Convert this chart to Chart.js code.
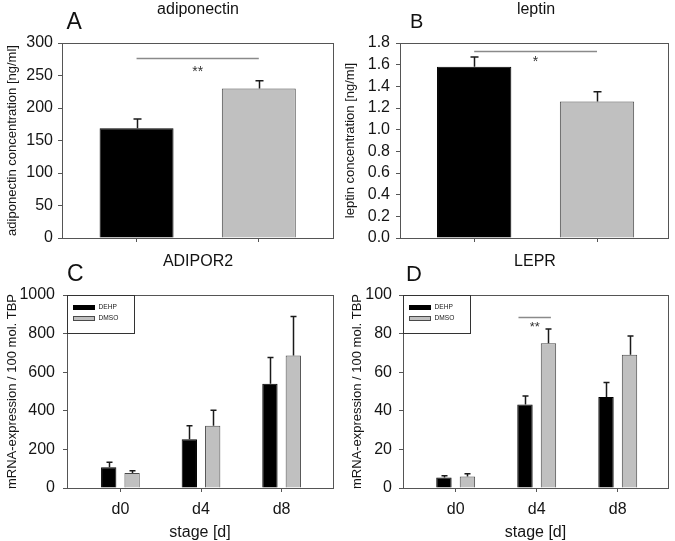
<!DOCTYPE html>
<html><head><meta charset="utf-8">
<script src="https://cdn.jsdelivr.net/npm/chart.js@4.4.1/dist/chart.umd.min.js"></script>
<style>
body{margin:0;background:#fff;}
#wrap{position:relative;width:675px;height:541px;overflow:hidden;font-family:'Liberation Sans',Arial,sans-serif;color:#111;background:#fff;}
canvas{position:absolute;}
.t{position:absolute;line-height:1;white-space:nowrap;color:#111;}
.c{transform:translateX(-50%);}
</style></head><body>
<div id="wrap">
<canvas id="cA" width="337" height="258" style="left:0;top:0"></canvas>
<canvas id="cB" width="338" height="258" style="left:337px;top:0"></canvas>
<canvas id="cC" width="337" height="283" style="left:0;top:258px"></canvas>
<canvas id="cD" width="338" height="283" style="left:337px;top:258px"></canvas>
<div class="t" style="left:66.5px;top:10px;font-size:23px">A</div>
<div class="t" style="left:410px;top:10.5px;font-size:20px">B</div>
<div class="t" style="left:67px;top:262px;font-size:23px">C</div>
<div class="t" style="left:406px;top:263.4px;font-size:22px">D</div>
<div class="t c" style="left:198px;top:0.5px;font-size:16px">adiponectin</div>
<div class="t c" style="left:536px;top:0.5px;font-size:16px">leptin</div>
<div class="t c" style="left:198px;top:253px;font-size:16px">ADIPOR2</div>
<div class="t c" style="left:535px;top:253px;font-size:16px">LEPR</div>
</div>
<script>
// ---- data ----
const groups = ['DEHP', 'DMSO'];
const adipoValues = [169, 230];
const adipoErrors = [14, 12];
const leptinValues = [1.58, 1.26];
const leptinErrors = [0.09, 0.09];

const stages = ['d0', 'd4', 'd8'];
const stageDays = [0, 4, 8];
const adipor2DEHP = [108, 253, 540];
const adipor2DEHPErr = [26, 69, 136];
const adipor2DMSO = [78, 322, 686];
const adipor2DMSOErr = [12, 81, 202];
const leprDEHP = [5.5, 43.2, 47.2];
const leprDEHPErr = [0.9, 4.5, 7.5];
const leprDMSO = [6.0, 75.0, 69.0];
const leprDMSOErr = [1.4, 7.4, 9.8];

const yTicksA = [0, 50, 100, 150, 200, 250, 300];
const yTicksB = [0, 0.2, 0.4, 0.6, 0.8, 1.0, 1.2, 1.4, 1.6, 1.8];
const yTicksC = [0, 200, 400, 600, 800, 1000];
const yTicksD = [0, 20, 40, 60, 80, 100];

// significance marks
const sigA = {x0: 0, x1: 1, y: 276.5, ty: 261, text: '**'};
const sigB = {x0: 0, x1: 1, y: 1.726, ty: 1.66, text: '*'};
const sigD = {x0: 3.1, x1: 4.7, y: 88.5, ty: 85, text: '**'};

// ---- styles ----
const BLACK = '#000000', GREY = '#c0c0c0', GREYB = '#4a4a4a', FRAME = '#555555', TXT = '#151515';
const FONT = "'Liberation Sans', Arial, sans-serif";
Chart.defaults.font.family = FONT;

const framePlugin = {id: 'frame', afterDraw(chart) {
  const a = chart.chartArea, ctx = chart.ctx;
  ctx.save(); ctx.strokeStyle = FRAME; ctx.lineWidth = 1;
  ctx.strokeRect(Math.round(a.left) + 0.5, Math.round(a.top) + 0.5, Math.round(a.right - a.left), Math.round(a.bottom - a.top));
  ctx.restore();
}};
// legend box drawn inside the plot, top-left, from the datasets
function legendPlugin(show) { return {id: 'boxLegend', afterDraw(chart) {
  if (!show) return;
  const a = chart.chartArea, ctx = chart.ctx;
  const L = Math.round(a.left) + 0.5, T = Math.round(a.top) + 0.5;
  ctx.save();
  ctx.strokeStyle = '#333'; ctx.lineWidth = 1;
  ctx.strokeRect(L, T, 67, 38);
  chart.data.datasets.forEach((ds, i) => {
    const sy = T + 10 + i * 11;
    ctx.fillStyle = ds.backgroundColor; ctx.fillRect(L + 6, sy, 21, 4);
    ctx.strokeStyle = ds.borderColor; ctx.lineWidth = 1; ctx.strokeRect(L + 6, sy, 21, 4);
    ctx.fillStyle = TXT; ctx.font = '6.6px ' + FONT; ctx.textAlign = 'left'; ctx.textBaseline = 'middle';
    ctx.fillText(ds.label, L + 31, sy + 2);
  });
  ctx.restore();
}}; }
function errPlugin(cap) { return {id: 'errbars', afterDatasetsDraw(chart) {
  const ctx = chart.ctx, ys = chart.scales.y;
  chart.data.datasets.forEach((ds, i) => {
    if (!ds.errors) return;
    chart.getDatasetMeta(i).data.forEach((el, j) => {
      const v = ds.data[j].y, e = ds.errors[j];
      const x = Math.round(el.x) + 0.5, y0 = ys.getPixelForValue(v), y1 = ys.getPixelForValue(v + e);
      ctx.save(); ctx.strokeStyle = '#1a1a1a'; ctx.lineWidth = 1.5;
      ctx.beginPath(); ctx.moveTo(x, y0); ctx.lineTo(x, y1);
      ctx.moveTo(x - cap / 2, y1); ctx.lineTo(x + cap / 2, y1); ctx.stroke(); ctx.restore();
    });
  });
}}; }
function sigPlugin(s, fs) { return {id: 'sig', afterDatasetsDraw(chart) {
  if (!s) return;
  const ctx = chart.ctx, xs = chart.scales.x, ys = chart.scales.y;
  const x0 = xs.getPixelForValue(s.x0), x1 = xs.getPixelForValue(s.x1), y = Math.round(ys.getPixelForValue(s.y)) + 0.5;
  ctx.save(); ctx.strokeStyle = '#8a8a8a'; ctx.lineWidth = 1.3;
  ctx.beginPath(); ctx.moveTo(x0, y); ctx.lineTo(x1, y); ctx.stroke();
  ctx.fillStyle = '#333'; ctx.font = fs + 'px ' + FONT; ctx.textAlign = 'center'; ctx.textBaseline = 'alphabetic';
  ctx.fillText(s.text, (x0 + x1) / 2, ys.getPixelForValue(s.ty) + 0.57 * fs);
  ctx.restore();
}}; }

function build(id, g, o) {
  const yWidth = g.l - g.cl, xHeight = g.ct + g.ch - g.b;
  return new Chart(document.getElementById(id), {
    type: 'bar',
    data: {datasets: o.datasets},
    options: {
      responsive: false, animation: false,
      layout: {autoPadding: false, padding: {left: 0, top: g.t - g.ct, right: g.cl + g.cw - g.r, bottom: 0}},
      plugins: {legend: {display: false}, tooltip: {enabled: false}},
      scales: {
        x: {type: 'linear', min: o.xMin, max: o.xMax, offset: false,
          afterBuildTicks: s => { s.ticks = o.xTicks.map(v => ({value: v})); },
          afterFit: s => { s.height = xHeight; },
          ticks: {callback: o.xLabel, font: {size: 16}, color: TXT, padding: 8, maxRotation: 0, autoSkip: false},
          grid: {offset: false, drawOnChartArea: false, drawTicks: true, tickLength: 4, color: FRAME, lineWidth: 1},
          border: {display: true, color: FRAME, width: 1},
          title: o.xTitle ? {display: true, text: o.xTitle, font: {size: 16, lineHeight: 1}, color: TXT, padding: {top: 0, bottom: 0}} : {display: false}
        },
        y: {min: 0, max: o.yTicks[o.yTicks.length - 1],
          afterBuildTicks: s => { s.ticks = o.yTicks.map(v => ({value: v})); },
          afterFit: s => { s.width = yWidth; },
          ticks: {callback: o.yFmt, font: {size: 16}, color: TXT, padding: o.yPad, autoSkip: false},
          grid: {drawOnChartArea: false, drawTicks: true, tickLength: 4, color: FRAME, lineWidth: 1},
          border: {display: true, color: FRAME, width: 1},
          title: {display: true, text: o.yTitle, font: {size: 13}, color: TXT, padding: {top: o.yTitlePad, bottom: 0}}
        }
      }
    },
    plugins: [framePlugin, errPlugin(o.cap), sigPlugin(o.sig, o.sigFs), legendPlugin(o.legend)]
  });
}

function pairDataset(vals, errs) {
  return [{label: 'groups', data: vals.map((v, i) => ({x: i, y: v})), errors: errs,
    backgroundColor: [BLACK, GREY], borderColor: [BLACK, GREYB], borderWidth: 1,
    categoryPercentage: 1, barPercentage: 0.605}];
}
function stageDatasets(dehp, dehpErr, dmso, dmsoErr) {
  return [
    {label: groups[0], data: dehp.map((v, i) => ({x: stageDays[i], y: v})), errors: dehpErr,
     backgroundColor: BLACK, borderColor: BLACK, borderWidth: 1, categoryPercentage: 0.58, barPercentage: 0.655},
    {label: groups[1], data: dmso.map((v, i) => ({x: stageDays[i], y: v})), errors: dmsoErr,
     backgroundColor: GREY, borderColor: GREYB, borderWidth: 1, categoryPercentage: 0.58, barPercentage: 0.655}
  ];
}
const stageLabel = v => { const k = stageDays.indexOf(v); return k >= 0 ? stages[k] : ''; };

build('cA', {cl: 0, ct: 0, cw: 337, ch: 258, l: 62, r: 333, t: 43, b: 238}, {
  datasets: pairDataset(adipoValues, adipoErrors), xMin: -0.61, xMax: 1.607, xTicks: [0, 1], xLabel: () => '',
  yTicks: yTicksA, yFmt: v => String(v), yPad: 5, yTitle: 'adiponectin concentration [ng/ml]', yTitlePad: 5,
  cap: 8, sig: sigA, sigFs: 14, legend: false});
build('cB', {cl: 337, ct: 0, cw: 338, ch: 258, l: 400, r: 668, t: 43, b: 238}, {
  datasets: pairDataset(leptinValues, leptinErrors), xMin: -0.604, xMax: 1.578, xTicks: [0, 1], xLabel: () => '',
  yTicks: yTicksB, yFmt: v => Number(v).toFixed(1), yPad: 6, yTitle: 'leptin concentration [ng/ml]', yTitlePad: 6,
  cap: 8, sig: sigB, sigFs: 14, legend: false});
build('cC', {cl: 0, ct: 258, cw: 337, ch: 283, l: 67, r: 333, t: 295, b: 488}, {
  datasets: stageDatasets(adipor2DEHP, adipor2DEHPErr, adipor2DMSO, adipor2DMSOErr), legend: true,
  xMin: -2.65, xMax: 10.55, xTicks: stageDays, xLabel: stageLabel, xTitle: 'stage [d]',
  yTicks: yTicksC, yFmt: v => String(v), yPad: 8, yTitle: 'mRNA-expression / 100 mol. TBP', yTitlePad: 4.7,
  cap: 6, sig: null, sigFs: 13});
build('cD', {cl: 337, ct: 258, cw: 338, ch: 283, l: 403, r: 668, t: 295, b: 488}, {
  datasets: stageDatasets(leprDEHP, leprDEHPErr, leprDMSO, leprDMSOErr), legend: true,
  xMin: -2.6, xMax: 10.48, xTicks: stageDays, xLabel: stageLabel, xTitle: 'stage [d]',
  yTicks: yTicksD, yFmt: v => String(v), yPad: 7, yTitle: 'mRNA-expression / 100 mol. TBP', yTitlePad: 12.7,
  cap: 6, sig: sigD, sigFs: 13});
</script>
</body></html>
